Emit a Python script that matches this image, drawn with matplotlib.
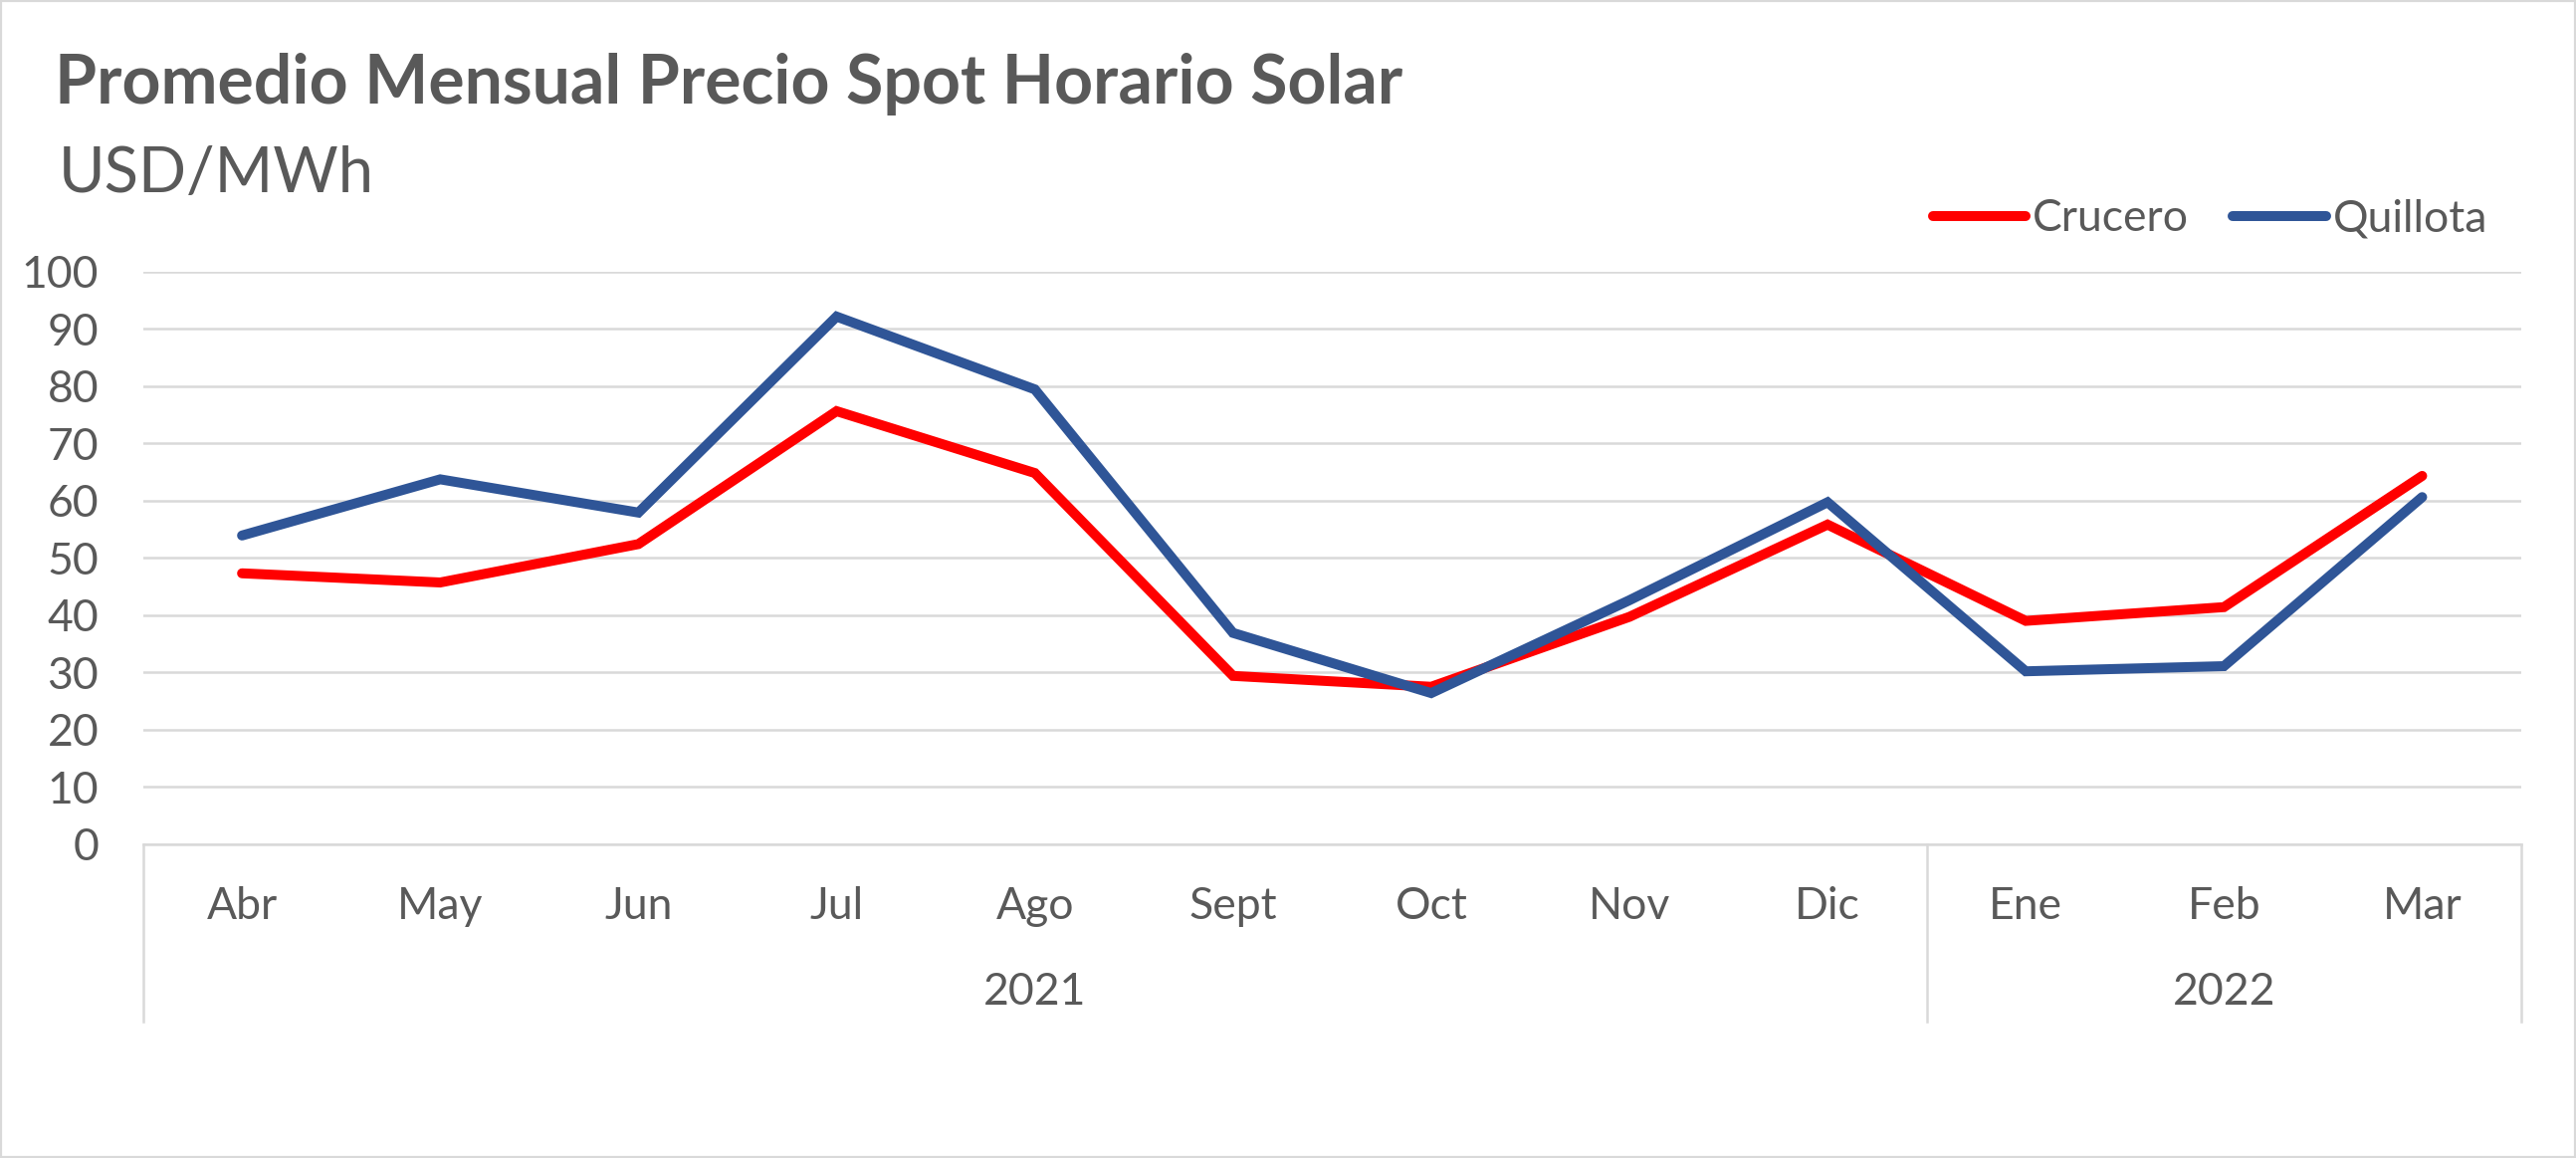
import matplotlib
matplotlib.use("Agg")
import matplotlib.pyplot as plt
from matplotlib.lines import Line2D
from matplotlib.patches import Rectangle
import matplotlib.transforms as mtransforms

months = ["Abr", "May", "Jun", "Jul", "Ago", "Sept", "Oct", "Nov", "Dic", "Ene", "Feb", "Mar"]
years = ["2021", "2022"]
year_counts = [9, 3]
crucero = [47.3, 45.7, 52.4, 75.6, 64.8, 29.4, 27.5, 39.7, 55.8, 39.0, 41.4, 64.3]
quillota = [53.9, 63.7, 57.9, 92.1, 79.4, 36.9, 26.4, 42.6, 59.7, 30.2, 31.1, 60.6]
yticks = [0, 10, 20, 30, 40, 50, 60, 70, 80, 90, 100]

FONT = ["Lato", "DejaVu Sans"]
TXT = "#595959"
GRID = "#D9D9D9"
RED = "#FF0000"
BLUE = "#2F5597"

W, H = 2588, 1163
fig = plt.figure(figsize=(W / 100, H / 100), dpi=100)
fig.patch.set_facecolor("white")
fig.patches.append(Rectangle((0, 0), 1, 1, transform=fig.transFigure, fill=False,
                             edgecolor=GRID, linewidth=3, zorder=0))

left, right, bottom, top = 143.6 / W, 2533 / W, (H - 848) / H, (H - 272.5) / H
ax = fig.add_axes([left, bottom, right - left, top - bottom])
x = list(range(len(months)))

ax.plot(x, crucero, color=RED, lw=7.2, solid_capstyle="round", solid_joinstyle="miter", zorder=3)
ax.plot(x, quillota, color=BLUE, lw=7.2, solid_capstyle="round", solid_joinstyle="miter", zorder=4)

ax.set_xlim(-0.5, len(months) - 0.5)
ax.set_ylim(0, 100)
ax.set_yticks(yticks)
ax.set_yticklabels([str(v) for v in yticks], fontsize=32, color=TXT, family=FONT)
ax.yaxis.grid(True, color=GRID, lw=1.8)
ax.set_axisbelow(True)
for s in ["top", "right", "left"]:
    ax.spines[s].set_visible(False)
ax.spines["bottom"].set_color(GRID)
ax.spines["bottom"].set_linewidth(1.8)
ax.tick_params(axis="y", length=0, pad=32)
ax.tick_params(axis="x", length=0, pad=30)
ax.set_xticks(x)
ax.set_xticklabels(months, fontsize=32, color=TXT, family=FONT)

# year grouping
trans = mtransforms.blended_transform_factory(ax.transData, ax.transAxes)
depth = (1026 - 848) / (848 - 272.5)
bounds = [-0.5]
for c in year_counts:
    bounds.append(bounds[-1] + c)
for b in bounds:
    ax.add_line(Line2D([b, b], [0, -depth], transform=trans, color=GRID, lw=1.8, clip_on=False))
ycen = -(997 - 848) / (848 - 272.5)
for i, yr in enumerate(years):
    ax.text((bounds[i] + bounds[i + 1]) / 2, ycen, yr, transform=trans, ha="center", va="center",
            fontsize=32, color=TXT, family=FONT)

# title
fig.text(55 / W, 1 - 104 / H, "Promedio Mensual Precio Spot Horario Solar", ha="left", va="baseline",
         fontsize=49, fontweight="bold", color=TXT, family=FONT)
fig.text(59 / W, 1 - 193 / H, "USD/MWh", ha="left", va="baseline",
         fontsize=45.5, color=TXT, family=FONT)

# legend
handles = [Line2D([], [], color=RED, lw=7.2, solid_capstyle="round"),
           Line2D([], [], color=BLUE, lw=7.2, solid_capstyle="round")]
leg = fig.legend(handles, ["Crucero", "Quillota"], loc="center right", bbox_to_anchor=(2521 / W, 1 - 220 / H),
                 ncol=2, frameon=False, prop={"family": FONT, "size": 32}, handlelength=2.1,
                 handletextpad=0.15, columnspacing=1.0, borderpad=0)
for t in leg.get_texts():
    t.set_color(TXT)

fig.savefig("out.png", dpi=100, facecolor="white")
